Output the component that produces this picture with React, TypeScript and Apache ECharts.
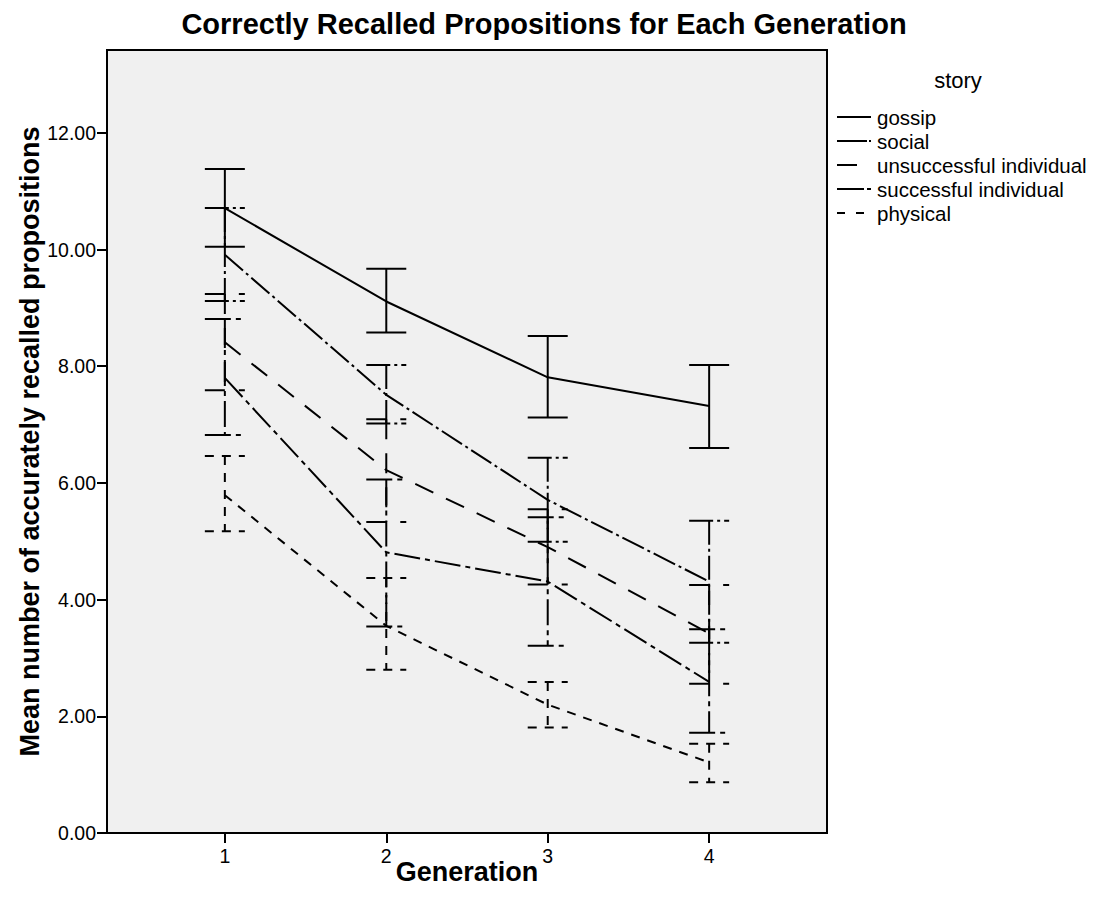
import React, { useEffect, useRef } from "react";
import * as echarts from "echarts";

const generations = [1, 2, 3, 4];
const storyNames = ["gossip", "social", "unsuccessful individual", "successful individual", "physical"];

const gossipMean = [10.71, 9.11, 7.81, 7.32];
const gossipLow = [10.05, 8.58, 7.12, 6.6];
const gossipHigh = [11.38, 9.67, 8.52, 8.02];

const socialMean = [9.91, 7.51, 5.71, 4.31];
const socialLow = [9.12, 7.02, 4.99, 3.26];
const socialHigh = [10.71, 8.02, 6.43, 5.35];

const unsuccessfulMean = [8.41, 6.22, 4.9, 3.42];
const unsuccessfulLow = [7.59, 5.33, 4.26, 2.56];
const unsuccessfulHigh = [9.24, 7.09, 5.55, 4.25];

const successfulMean = [7.8, 4.81, 4.31, 2.59];
const successfulLow = [6.82, 3.54, 3.21, 1.72];
const successfulHigh = [8.81, 6.06, 5.41, 3.49];

const physicalMean = [5.79, 3.55, 2.2, 1.21];
const physicalLow = [5.17, 2.8, 1.81, 0.87];
const physicalHigh = [6.46, 4.37, 2.59, 1.53];

const yTickValues = [0, 2, 4, 6, 8, 10, 12];

const FONT = "'Liberation Sans', Arial, Helvetica, sans-serif";

const seriesDefs = [
  { name: storyNames[0], mean: gossipMean, low: gossipLow, high: gossipHigh, dash: null as number[] | null, legendDash: null as number[] | null },
  { name: storyNames[1], mean: socialMean, low: socialLow, high: socialHigh, dash: [24, 4, 3, 4], legendDash: [30, 2, 2, 20] },
  { name: storyNames[2], mean: unsuccessfulMean, low: unsuccessfulLow, high: unsuccessfulHigh, dash: [20, 14], legendDash: [20, 20] },
  { name: storyNames[3], mean: successfulMean, low: successfulLow, high: successfulHigh, dash: [26, 5, 5, 5], legendDash: [27, 3, 4, 10] },
  { name: storyNames[4], mean: physicalMean, low: physicalLow, high: physicalHigh, dash: [9, 8], legendDash: [8, 11] },
];

export default function App() {
  const ref = useRef<HTMLDivElement>(null);
  useEffect(() => {
    if (!ref.current) return;
    const chart = echarts.init(ref.current, null, { renderer: "svg" });

    const series: any[] = [];
    seriesDefs.forEach((s) => {
      series.push({
        name: s.name,
        type: "line",
        data: generations.map((g, i) => [g, s.mean[i]]),
        symbol: "none",
        lineStyle: { color: "#000", width: 2, type: s.dash ? s.dash : "solid" },
        z: 3,
      });
      const dash = s.dash;
      series.push({
        name: s.name + " error",
        type: "custom",
        data: generations.map((g, i) => [g, s.low[i], s.high[i]]),
        encode: { x: 0, y: [1, 2] },
        z: 2,
        renderItem: (params: any, api: any) => {
          const x = api.value(0);
          const pLo = api.coord([x, api.value(1)]);
          const pHi = api.coord([x, api.value(2)]);
          const hw = 20;
          const style: any = { stroke: "#000", lineWidth: 2, fill: null };
          if (dash) style.lineDash = dash;
          return {
            type: "group",
            children: [
              { type: "line", shape: { x1: pHi[0], y1: pHi[1], x2: pLo[0], y2: pLo[1] }, style },
              { type: "line", shape: { x1: pHi[0] - hw, y1: pHi[1], x2: pHi[0] + hw, y2: pHi[1] }, style },
              { type: "line", shape: { x1: pLo[0] - hw, y1: pLo[1], x2: pLo[0] + hw, y2: pLo[1] }, style },
            ],
          };
        },
      });
    });

    const legendChildren: any[] = [
      {
        type: "text",
        x: 958,
        y: 80,
        style: { text: "story", fontFamily: FONT, fontSize: 22, fill: "#000", align: "center", verticalAlign: "middle" },
      },
    ];
    seriesDefs.forEach((s, i) => {
      const y = 117 + i * 24;
      const st: any = { stroke: "#000", lineWidth: 2 };
      if (s.legendDash) st.lineDash = s.legendDash;
      legendChildren.push({ type: "line", shape: { x1: 837, y1: y, x2: 871, y2: y }, style: st });
      legendChildren.push({
        type: "text",
        x: 877,
        y: y,
        style: { text: s.name, fontFamily: FONT, fontSize: 20.5, fill: "#000", align: "left", verticalAlign: "middle" },
      });
    });

    chart.setOption({
      animation: false,
      backgroundColor: "#fff",
      title: {
        text: "Correctly Recalled Propositions for Each Generation",
        left: 539,
        top: 4,
        textAlign: "center",
        textStyle: { fontFamily: FONT, fontSize: 29, fontWeight: "bold", color: "#000" },
      },
      grid: {
        left: 107,
        right: 266,
        top: 50,
        bottom: 83,
        show: true,
        backgroundColor: "#f0f0f0",
        borderColor: "#000",
        borderWidth: 2,
      },
      xAxis: {
        type: "value",
        min: 0.27,
        max: 4.73,
        name: "Generation",
        nameLocation: "middle",
        nameGap: 25,
        nameMoveOverlap: false,
        nameTextStyle: { fontFamily: FONT, fontSize: 27, fontWeight: "bold", color: "#000", verticalAlign: "top" },
        axisLine: { show: true, lineStyle: { color: "#000", width: 2 } },
        axisTick: { show: true, length: 10, lineStyle: { color: "#000", width: 2 }, customValues: generations },
        axisLabel: {
          customValues: generations,
          margin: 13,
          fontFamily: FONT,
          fontSize: 19.5,
          color: "#000",
          formatter: (v: number) => String(Math.round(v)),
        },
        splitLine: { show: false },
      },
      yAxis: {
        type: "value",
        min: 0,
        max: 13.42,
        name: "Mean number of accurately recalled propositions",
        nameLocation: "middle",
        nameGap: 64,
        nameMoveOverlap: false,
        nameTextStyle: { fontFamily: FONT, fontSize: 27, fontWeight: "bold", color: "#000" },
        axisLine: { show: true, lineStyle: { color: "#000", width: 2 } },
        axisTick: { show: true, length: 10, lineStyle: { color: "#000", width: 2 }, customValues: yTickValues },
        axisLabel: {
          customValues: yTickValues,
          margin: 11,
          fontFamily: FONT,
          fontSize: 19.5,
          color: "#000",
          formatter: (v: number) => v.toFixed(2),
        },
        splitLine: { show: false },
      },
      graphic: legendChildren,
      series,
    });

    return () => chart.dispose();
  }, []);

  return (
    <div
      ref={ref}
      style={{ position: "fixed", left: 0, top: 0, width: 1093, height: 916, background: "#fff" }}
    />
  );
}
